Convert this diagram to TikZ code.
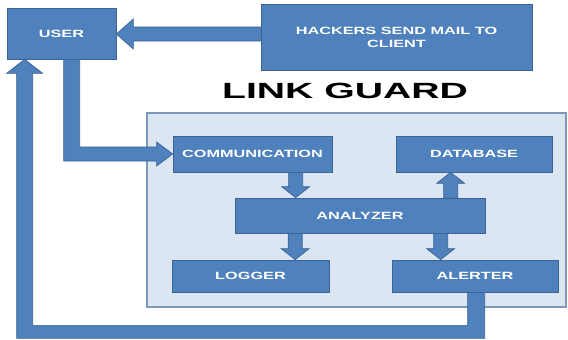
\documentclass[tikz,border=0pt]{standalone}
\usepackage{fontspec}
\usetikzlibrary{calc}
\newfontfamily\boxfont[FakeStretch=1.55]{Liberation Sans}
\newfontfamily\titlefont[FakeStretch=1.78]{Liberation Sans}
\definecolor{boxblue}{HTML}{4F81BD}
\definecolor{boxedge}{HTML}{3A6494}
\definecolor{panelfill}{HTML}{DCE6F2}
\definecolor{paneledge}{HTML}{8098B8}
\pgfdeclarelayer{panellayer}
\pgfdeclarelayer{arrowlayer}
\pgfsetlayers{panellayer,arrowlayer,main}
\tikzset{
  blk/.style={fill=boxblue, draw=boxedge, line width=0.7pt, line join=miter},
  stepbox/.style={blk, rectangle, inner sep=0pt, text=white,
    font=\boxfont\bfseries\fontsize{10.5}{13}\selectfont, align=center},
  panelbox/.style={fill=panelfill, draw=paneledge, line width=1.5pt},
}
\newcommand\blockarrow[5]{% tail, tip, shaft half, head half, head length
  \coordinate (ba-H) at ($(#2)!#5!(#1)$);
  \filldraw[blk] ($(#1)!#3!90:(#2)$) -- ($(ba-H)!#3!90:(#2)$) -- ($(ba-H)!#4!90:(#2)$)
    -- (#2) -- ($(ba-H)!#4!-90:(#2)$) -- ($(ba-H)!#3!-90:(#2)$) -- ($(#1)!#3!-90:(#2)$) -- cycle;
}
\begin{document}
\begin{tikzpicture}[x=1pt, y=-1pt]
\useasboundingbox (0,0) rectangle (568,340);
% nodes
\node[stepbox, minimum width=109pt, minimum height=51pt] (user) at (61.5,33.5) {USER};
\node[stepbox, minimum width=271pt, minimum height=66pt] (hackers) at (396.5,37) {HACKERS SEND MAIL TO\\CLIENT};
\node[font=\titlefont\bfseries\fontsize{22}{24}\selectfont, inner sep=0pt] (title) at (345,90.5) {LINK GUARD};
\node[stepbox, minimum width=159pt, minimum height=36pt] (comm) at (252.5,154) {COMMUNICATION};
\node[stepbox, minimum width=156pt, minimum height=36pt] (database) at (474,154) {DATABASE};
\node[stepbox, minimum width=250pt, minimum height=35pt] (analyzer) at (360,215.5) {ANALYZER};
\node[stepbox, minimum width=157pt, minimum height=32pt] (logger) at (250.5,276) {LOGGER};
\node[stepbox, minimum width=166pt, minimum height=32pt] (alerter) at (475,276) {ALERTER};
\begin{pgfonlayer}{panellayer}
  \fill[white] (0,0) rectangle (568,340);
  \draw[panelbox] (147,113) rectangle (566,307);
\end{pgfonlayer}
\begin{pgfonlayer}{arrowlayer}
  % hackers -> user
  \coordinate (hu-tail) at ($(hackers.west)+(0,-3)$);
  \coordinate (hu-tip) at (user.east |- hu-tail);
  \blockarrow{hu-tail}{hu-tip}{7pt}{15pt}{17pt}
  % comm -> analyzer
  \coordinate (ca-tail) at ($(comm.south west)+(123,0)$);
  \coordinate (ca-tip) at (ca-tail |- analyzer.north);
  \blockarrow{ca-tail}{ca-tip}{7pt}{14pt}{11pt}
  % analyzer -> database
  \coordinate (ad-tail) at ($(analyzer.north west)+(216,0)$);
  \coordinate (ad-tip) at (ad-tail |- database.south);
  \blockarrow{ad-tail}{ad-tip}{7pt}{14pt}{11pt}
  % analyzer -> logger
  \coordinate (al-tail) at ($(analyzer.south west)+(60.5,0)$);
  \coordinate (al-tip) at (al-tail |- logger.north);
  \blockarrow{al-tail}{al-tip}{7pt}{14pt}{11pt}
  % analyzer -> alerter
  \coordinate (ar-tail) at ($(analyzer.south west)+(206,0)$);
  \coordinate (ar-tip) at (ar-tail |- alerter.north);
  \blockarrow{ar-tail}{ar-tip}{7pt}{14pt}{11pt}
  % user -> comm (elbow)
  \coordinate (uc-a) at ($(user.south west)+(57,0)$);
  \coordinate (uc-b) at ($(user.south west)+(73,0)$);
  \coordinate (uc-base) at ($(comm.west)+(-16,0)$);
  \filldraw[blk] (uc-a) |- ($(uc-base)+(0,7)$) -- ++(0,5) -- (comm.west)
    -- ($(uc-base)+(0,-12)$) -- ++(0,5) -| (uc-b) -- cycle;
  % alerter -> user (return loop)
  \coordinate (au-a) at ($(alerter.south west)+(76,0)$);
  \coordinate (au-b) at ($(alerter.south west)+(93,0)$);
  \coordinate (au-tip) at ($(user.south west)+(18,0)$);
  \filldraw[blk] (au-a) -- ++(0,33) -| ($(au-tip)+(8,14)$) -- ++(10,0) -- (au-tip)
    -- ($(au-tip)+(-18,14)$) -- ++(10,0) -- ++(0,265) -| (au-b) -- cycle;
\end{pgfonlayer}
\end{tikzpicture}
\end{document}
